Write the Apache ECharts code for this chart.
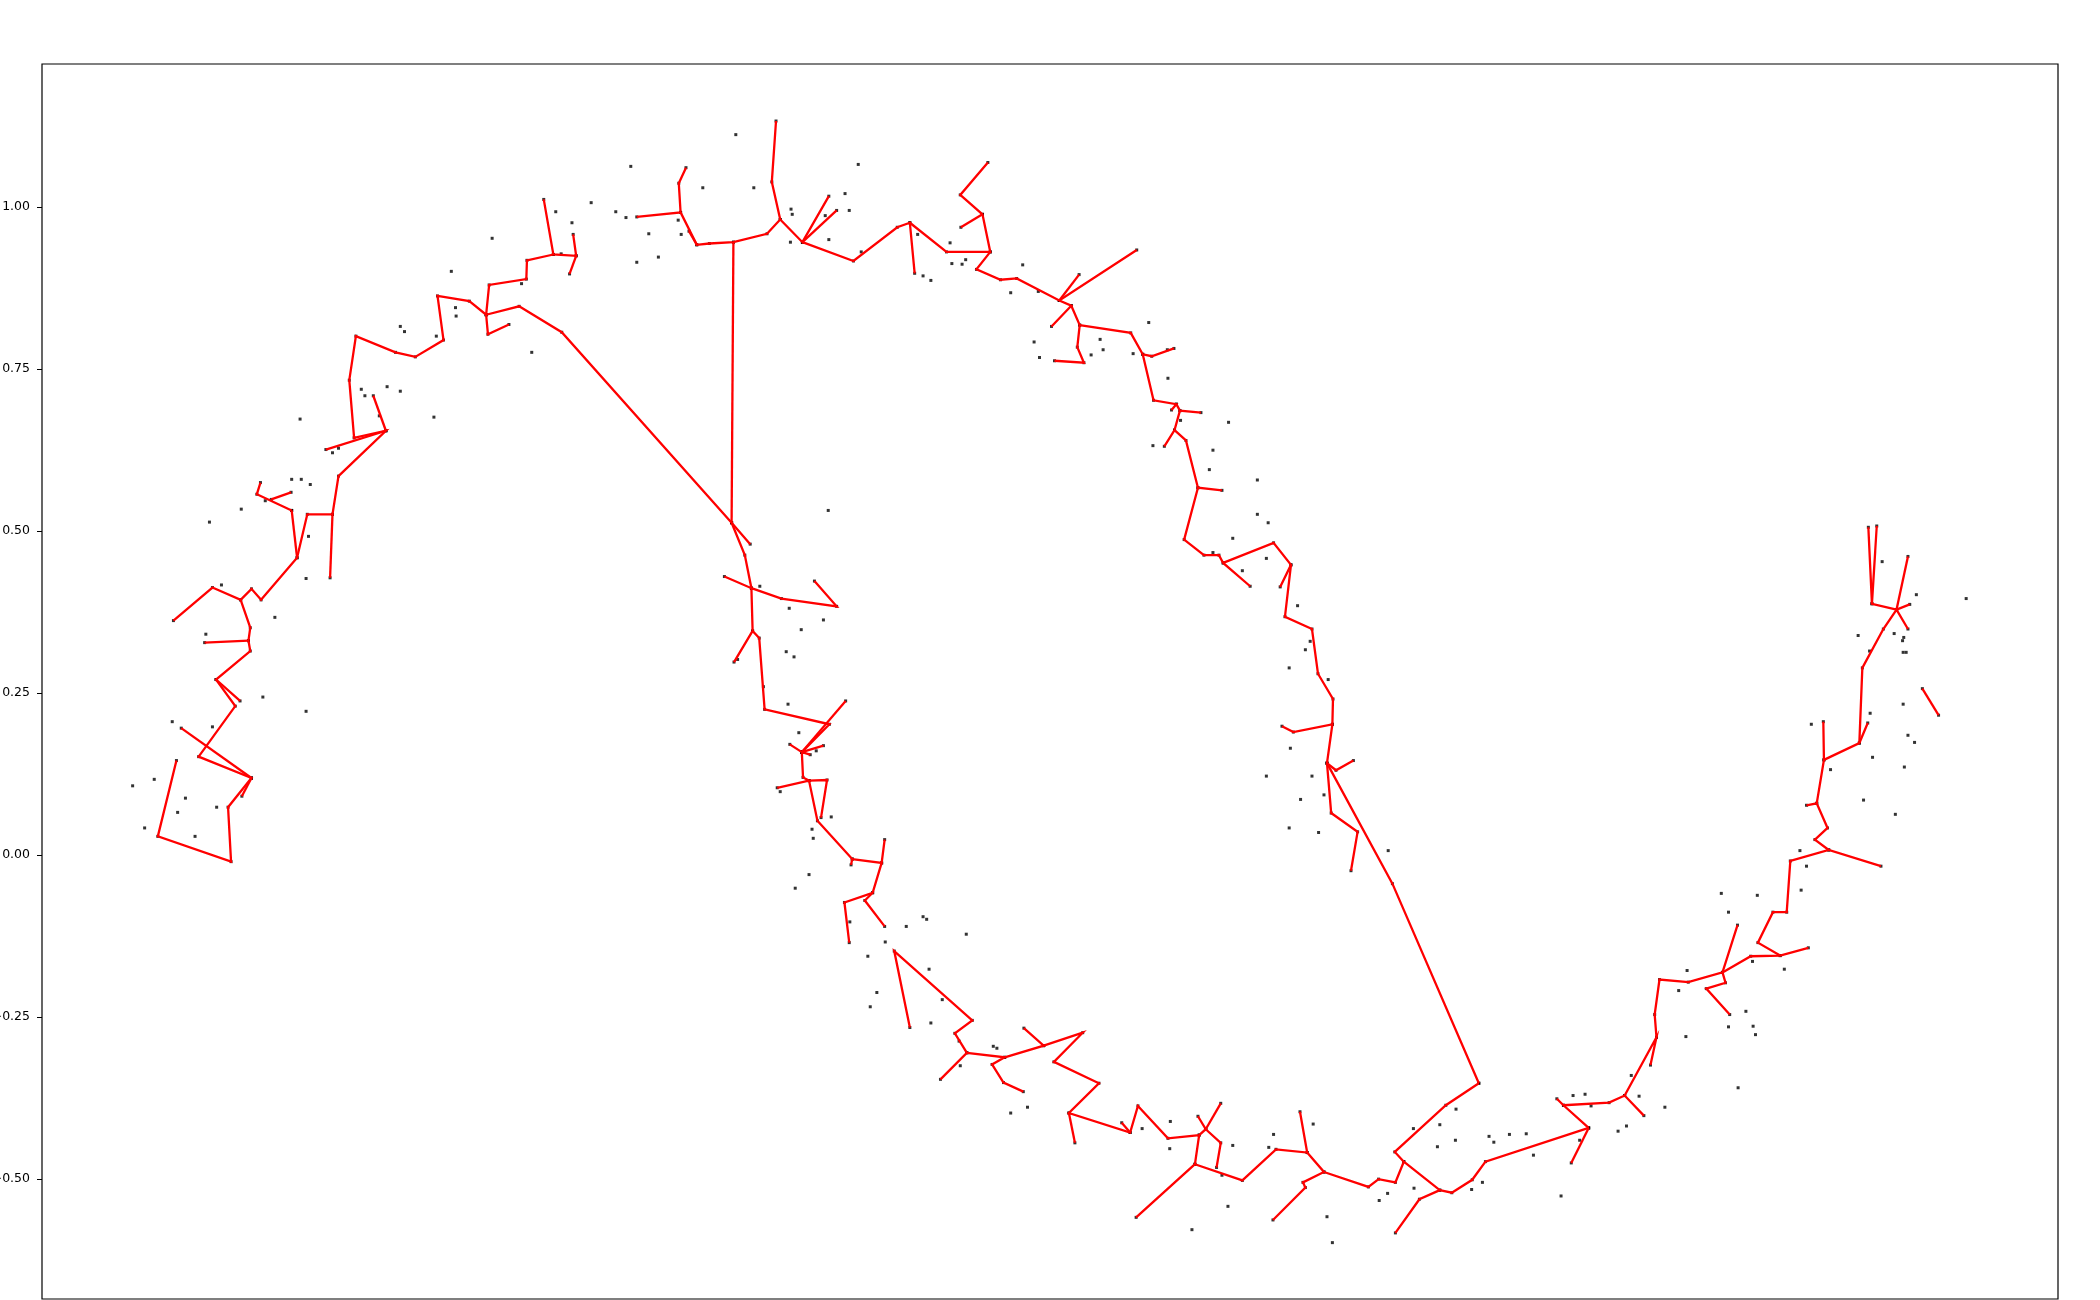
<!DOCTYPE html>
<html>
<head>
<meta charset="utf-8">
<title>moons graph</title>
<script src="https://cdn.jsdelivr.net/npm/echarts@6/dist/echarts.min.js"></script>
<style>
  html, body { margin: 0; padding: 0; background: #fff; }
  #chart { width: 2100px; height: 1300px; }
</style>
</head>
<body>
<div id="chart"></div>
<script>
// axis range (x has no ticks in the original)
var xRange = [-1.154, 2.205];
var yRange = [-0.685, 1.221];
var yTicks = [-0.5, -0.25, 0, 0.25, 0.5, 0.75, 1.0];

// red edges, each entry is a chain of points
var upperLeftEdges = [
  [[-0.318,1.012],[-0.302,0.927],[-0.264,0.925],[-0.269,0.958]],
  [[-0.264,0.925],[-0.275,0.897]],
  [[-0.302,0.927],[-0.346,0.918],[-0.347,0.889],[-0.409,0.880],[-0.414,0.834],[-0.442,0.855],[-0.495,0.863],
   [-0.485,0.795],[-0.532,0.769],[-0.565,0.776],[-0.631,0.801],[-0.642,0.733],[-0.634,0.644],[-0.581,0.655],
   [-0.660,0.585],[-0.670,0.526],[-0.712,0.526],[-0.729,0.459],[-0.789,0.394],[-0.805,0.411],[-0.823,0.394],
   [-0.870,0.413],[-0.935,0.362]],
  [[-0.581,0.655],[-0.681,0.626]],
  [[-0.581,0.655],[-0.602,0.709]],
  [[-0.670,0.526],[-0.674,0.428]],
  [[-0.738,0.532],[-0.729,0.459]],
  [[-0.738,0.532],[-0.796,0.557],[-0.790,0.575]],
  [[-0.772,0.549],[-0.739,0.560]],
  [[-0.414,0.834],[-0.411,0.804],[-0.376,0.819]],
  [[-0.823,0.394],[-0.807,0.351],[-0.810,0.331],[-0.807,0.315],[-0.864,0.271],[-0.824,0.238]],
  [[-0.810,0.331],[-0.883,0.328]],
  [[-0.864,0.271],[-0.832,0.230],[-0.893,0.152],[-0.805,0.119],[-0.844,0.074],[-0.839,-0.010],[-0.961,0.029],[-0.930,0.146]],
  [[-0.922,0.196],[-0.805,0.119]],
  [[-0.805,0.119],[-0.821,0.091]]
];

var topEdges = [
  [[-0.163,0.985],[-0.090,0.992],[-0.093,1.037],[-0.081,1.061]],
  [[-0.090,0.992],[-0.063,0.942],[-0.042,0.944],[-0.002,0.946],[0.054,0.959],[0.076,0.981],[0.062,1.039],[0.069,1.133]],
  [[-0.063,0.942],[-0.076,0.963]],
  [[0.076,0.981],[0.113,0.946],[0.157,1.017]],
  [[0.113,0.946],[0.170,0.995]],
  [[0.113,0.946],[0.198,0.917],[0.271,0.969],[0.292,0.976],[0.300,0.898]],
  [[0.292,0.976],[0.353,0.931],[0.426,0.931],[0.413,0.989],[0.376,1.019],[0.422,1.069]],
  [[0.413,0.989],[0.377,0.969]],
  [[0.426,0.931],[0.403,0.904],[0.443,0.888],[0.470,0.890],[0.541,0.856],[0.670,0.934]],
  [[0.541,0.856],[0.574,0.896]],
  [[0.541,0.856],[0.561,0.848],[0.528,0.816]],
  [[0.561,0.848],[0.575,0.818],[0.571,0.784],[0.582,0.760],[0.533,0.763]],
  [[0.575,0.818],[0.660,0.806],[0.680,0.773],[0.695,0.770],[0.732,0.782]],
  [[0.680,0.773],[0.698,0.702],[0.736,0.696],[0.728,0.687]],
  [[0.736,0.696],[0.742,0.686],[0.777,0.683]],
  [[0.742,0.686],[0.733,0.656],[0.716,0.631]],
  [[0.733,0.656],[0.752,0.640],[0.772,0.567],[0.812,0.563]],
  [[0.772,0.567],[0.749,0.487],[0.782,0.463],[0.807,0.463],[0.814,0.451],[0.859,0.415]],
  [[0.814,0.451],[0.898,0.482],[0.927,0.448],[0.909,0.414]],
  [[0.927,0.448],[0.917,0.368],[0.962,0.349],[0.972,0.280],[0.997,0.241],[0.996,0.202],[0.931,0.190],[0.912,0.199]],
  [[0.996,0.202],[0.987,0.142],[1.002,0.131],[1.031,0.146]],
  [[0.987,0.142],[0.994,0.065],[1.038,0.036],[1.027,-0.024]]
];

// long links between the arms
var bridgeEdges = [
  [[-0.414,0.834],[-0.359,0.847],[-0.288,0.807],[-0.005,0.513],[0.026,0.480]],
  [[-0.002,0.946],[-0.005,0.513]],
  [[0.987,0.142],[1.096,-0.044],[1.240,-0.352]]
];

var lowerLeftEdges = [
  [[-0.005,0.513],[0.017,0.463],[0.028,0.412],[-0.017,0.430]],
  [[0.028,0.412],[0.078,0.396],[0.170,0.384],[0.133,0.423]],
  [[0.028,0.412],[0.030,0.346],[-0.001,0.298]],
  [[0.030,0.346],[0.041,0.335],[0.050,0.225],[0.158,0.202],[0.112,0.159]],
  [[0.112,0.159],[0.185,0.238]],
  [[0.112,0.159],[0.092,0.171]],
  [[0.112,0.159],[0.148,0.169]],
  [[0.112,0.159],[0.126,0.155]],
  [[0.112,0.159],[0.114,0.120],[0.124,0.115],[0.071,0.104]],
  [[0.124,0.115],[0.154,0.116],[0.144,0.058]],
  [[0.124,0.115],[0.138,0.053],[0.196,-0.006],[0.194,-0.015]],
  [[0.196,-0.006],[0.245,-0.012],[0.250,0.024]],
  [[0.245,-0.012],[0.230,-0.058],[0.183,-0.073],[0.191,-0.135]],
  [[0.230,-0.058],[0.217,-0.070],[0.250,-0.110]],
  [[0.292,-0.266],[0.266,-0.148],[0.396,-0.255],[0.367,-0.275],[0.387,-0.305],[0.343,-0.346]],
  [[0.387,-0.305],[0.450,-0.312],[0.429,-0.323],[0.448,-0.351],[0.481,-0.365]],
  [[0.450,-0.312],[0.515,-0.294],[0.482,-0.267]]
];

var bottomEdges = [
  [[0.515,-0.294],[0.580,-0.274],[0.532,-0.319],[0.607,-0.352],[0.557,-0.398],[0.659,-0.428],[0.672,-0.387],
   [0.722,-0.437],[0.774,-0.432],[0.785,-0.423],[0.772,-0.403]],
  [[0.557,-0.398],[0.567,-0.444]],
  [[0.659,-0.428],[0.645,-0.413]],
  [[0.785,-0.423],[0.810,-0.383]],
  [[0.785,-0.423],[0.810,-0.444],[0.803,-0.482]],
  [[0.774,-0.432],[0.767,-0.477],[0.669,-0.559]],
  [[0.767,-0.477],[0.846,-0.502],[0.902,-0.454],[0.954,-0.459],[0.942,-0.396]],
  [[0.954,-0.459],[0.982,-0.489],[0.947,-0.505],[0.951,-0.513],[0.897,-0.563]],
  [[0.982,-0.489],[1.056,-0.512],[1.073,-0.500],[1.101,-0.505],[1.115,-0.473],[1.100,-0.458],[1.185,-0.386],[1.240,-0.352]],
  [[1.115,-0.473],[1.175,-0.517],[1.141,-0.531],[1.101,-0.583]],
  [[1.175,-0.517],[1.195,-0.521],[1.229,-0.501],[1.251,-0.473],[1.423,-0.421]]
];

var rightEdges = [
  [[1.423,-0.421],[1.394,-0.475]],
  [[1.423,-0.421],[1.381,-0.386],[1.370,-0.376]],
  [[1.381,-0.386],[1.457,-0.382],[1.483,-0.371],[1.515,-0.402]],
  [[1.483,-0.371],[1.536,-0.281],[1.526,-0.324]],
  [[1.536,-0.281],[1.533,-0.246],[1.541,-0.192],[1.589,-0.196],[1.646,-0.181],[1.671,-0.108]],
  [[1.646,-0.181],[1.651,-0.197],[1.619,-0.206],[1.658,-0.246]],
  [[1.646,-0.181],[1.693,-0.156],[1.742,-0.155],[1.789,-0.143]],
  [[1.742,-0.155],[1.705,-0.135],[1.730,-0.088],[1.753,-0.088],[1.759,-0.009],[1.823,0.008],[1.910,-0.017]],
  [[1.823,0.008],[1.800,0.024],[1.821,0.042],[1.803,0.080],[1.786,0.077]],
  [[1.803,0.080],[1.815,0.147],[1.814,0.206]],
  [[1.815,0.147],[1.874,0.173],[1.888,0.204]],
  [[1.874,0.173],[1.879,0.289],[1.914,0.349],[1.936,0.379],[1.955,0.349]],
  [[1.936,0.379],[1.958,0.387]],
  [[1.936,0.379],[1.955,0.461]],
  [[1.936,0.379],[1.895,0.388],[1.889,0.506]],
  [[1.895,0.388],[1.903,0.508]],
  [[1.979,0.257],[2.006,0.216]]
];

// black points that carry no edge
var dotsLeftArm = [
  [-0.239,1.007],[-0.298,0.993],[-0.271,0.976],[-0.404,0.952],[-0.289,0.928],[-0.472,0.901],[-0.355,0.882],
  [-0.465,0.845],[-0.464,0.832],[-0.557,0.816],[-0.550,0.808],[-0.497,0.801],[-0.338,0.776],[-0.622,0.719],
  [-0.616,0.709],[-0.579,0.723],[-0.557,0.716],[-0.592,0.678],[-0.501,0.676],[-0.724,0.673],[-0.670,0.621],
  [-0.660,0.628],[-0.738,0.580],[-0.722,0.580],[-0.707,0.572],[-0.782,0.547],[-0.822,0.534],[-0.875,0.514],
  [-0.710,0.492],[-0.714,0.427],[-0.855,0.417],[-0.766,0.367],[-0.881,0.341],[-0.786,0.244],[-0.714,0.222],
  [-0.937,0.206],[-0.870,0.198],[-0.967,0.117],[-1.003,0.107],[-0.915,0.088],[-0.863,0.074],[-0.928,0.066],
  [-0.983,0.042],[-0.899,0.029]
];
var dotsTop = [
  [0.002,1.112],[-0.173,1.063],[-0.198,0.993],[-0.181,0.984],[-0.143,0.959],[-0.163,0.915],[-0.127,0.923],
  [-0.053,1.030],[0.032,1.030],[-0.094,0.980],[-0.089,0.958],[0.094,0.997],[0.096,0.989],[0.093,0.946],
  [0.151,0.987],[0.184,1.021],[0.191,0.995],[0.206,1.066],[0.157,0.950],[0.211,0.931],[0.305,0.958],
  [0.359,0.945],[0.362,0.913],[0.379,0.912],[0.385,0.919],[0.314,0.894],[0.327,0.887],[0.480,0.911],
  [0.460,0.868],[0.506,0.870],[0.499,0.792],[0.508,0.768],[0.609,0.796],[0.614,0.780],[0.594,0.772],
  [0.664,0.774],[0.690,0.822],[0.722,0.736],[0.721,0.780]
];
var dotsRightDesc = [
  [0.743,0.671],[0.823,0.668],[0.697,0.632],[0.797,0.625],[0.791,0.595],[0.871,0.579],[0.871,0.526],
  [0.889,0.513],[0.830,0.489],[0.797,0.467],[0.886,0.458],[0.846,0.439],[0.938,0.385],[0.959,0.330],
  [0.951,0.317],[0.924,0.289],[0.989,0.271],[0.926,0.165],[0.886,0.122],[0.962,0.122],[0.982,0.093],
  [0.943,0.086],[0.924,0.042],[0.973,0.035],[1.089,0.007]
];
var dotsLowerLeft = [
  [0.156,0.532],[0.042,0.415],[0.091,0.381],[0.148,0.363],[0.111,0.348],[0.086,0.314],[0.099,0.306],
  [0.005,0.302],[0.048,0.260],[0.089,0.233],[0.107,0.189],[0.136,0.161],[0.076,0.098],[0.161,0.059],
  [0.129,0.040],[0.131,0.026],[0.124,-0.030],[0.101,-0.051],[0.192,-0.103],[0.251,-0.134],[0.222,-0.156],
  [0.286,-0.110],[0.314,-0.095],[0.320,-0.099],[0.386,-0.122],[0.324,-0.176],[0.237,-0.212],[0.226,-0.234],
  [0.346,-0.223],[0.327,-0.259],[0.374,-0.287],[0.431,-0.295],[0.437,-0.298],[0.376,-0.325],[0.460,-0.398],
  [0.488,-0.389]
];
var dotsBottom = [
  [0.679,-0.422],[0.726,-0.411],[0.725,-0.453],[0.830,-0.448],[0.812,-0.494],[0.822,-0.542],[0.762,-0.578],
  [0.898,-0.431],[0.890,-0.451],[0.964,-0.415],[0.987,-0.558],[0.996,-0.598],[1.074,-0.533],[1.088,-0.522],
  [1.131,-0.422],[1.132,-0.514],[1.171,-0.450],[1.175,-0.416],[1.201,-0.440],[1.202,-0.392],[1.246,-0.505],
  [1.228,-0.516],[1.257,-0.434],[1.265,-0.443],[1.291,-0.431]
];
var dotsRightArm = [
  [1.656,-0.088],[1.587,-0.178],[1.573,-0.209],[1.696,-0.164],[1.749,-0.176],[1.685,-0.241],[1.656,-0.265],
  [1.697,-0.264],[1.701,-0.277],[1.585,-0.280],[1.672,-0.359],[1.494,-0.340],[1.507,-0.372],[1.550,-0.389],
  [1.397,-0.371],[1.417,-0.369],[1.427,-0.387],[1.486,-0.418],[1.472,-0.426],[1.408,-0.440],[1.319,-0.430],
  [1.331,-0.463],[1.377,-0.526],[1.912,0.453],[1.969,0.402],[2.052,0.396],[1.872,0.339],[1.932,0.342],
  [1.948,0.336],[1.946,0.331],[1.891,0.315],[1.947,0.313],[1.952,0.313],[1.947,0.233],[1.892,0.219],
  [1.794,0.202],[1.955,0.185],[1.966,0.174],[1.896,0.151],[1.949,0.136],[1.826,0.132],[1.881,0.085],
  [1.934,0.063],[1.775,0.007],[1.786,-0.017],[1.777,-0.054],[1.644,-0.059],[1.704,-0.062]
];

var allEdges = [].concat(upperLeftEdges, topEdges, bridgeEdges, lowerLeftEdges, bottomEdges, rightEdges);
var allDots = [].concat(dotsLeftArm, dotsTop, dotsRightDesc, dotsLowerLeft, dotsBottom, dotsRightArm);

// every edge end is a point too
var nodeDots = [];
for (var i = 0; i < allEdges.length; i++) {
    for (var j = 0; j < allEdges[i].length; j++) {
        nodeDots.push(allEdges[i][j]);
    }
}

var chart = echarts.init(document.getElementById('chart'), null, { renderer: 'canvas' });

var option = {
    animation: false,
    backgroundColor: '#fff',
    textStyle: { fontFamily: 'DejaVu Sans' },
    grid: {
        left: 42, right: 42, top: 64, bottom: 1,
        outerBoundsMode: 'none',   // keep the frame where it is, let the minus signs fall off the edge
        containLabel: false,
        show: true, borderColor: '#000', borderWidth: 1.2, backgroundColor: 'transparent'
    },
    xAxis: {
        type: 'value',
        min: xRange[0], max: xRange[1],
        axisLine: { show: false, onZero: false },
        axisTick: { show: false },
        axisLabel: { show: false },
        splitLine: { show: false }
    },
    yAxis: {
        type: 'value',
        min: yRange[0], max: yRange[1],
        axisLine: { show: false, onZero: false },
        axisTick: {
            show: true, length: 5, inside: false,
            customValues: yTicks,
            lineStyle: { color: '#000', width: 1 }
        },
        axisLabel: {
            show: true, margin: 12,
            customValues: yTicks,
            color: '#000', fontSize: 12.5, fontFamily: 'DejaVu Sans',
            formatter: function (v) {
                return (v < 0 ? '\u2212' : '') + Math.abs(v).toFixed(2);
            }
        },
        splitLine: { show: false }
    },
    series: [
        {
            type: 'scatter',
            data: allDots,
            symbol: 'rect',
            symbolSize: 3,
            itemStyle: { color: '#000' },
            silent: true,
            z: 1
        },
        {
            type: 'scatter',
            data: nodeDots,
            symbol: 'rect',
            symbolSize: 3,
            itemStyle: { color: '#000' },
            silent: true,
            z: 1
        },
        {
            type: 'lines',
            coordinateSystem: 'cartesian2d',
            polyline: true,
            data: allEdges.map(function (c) { return { coords: c }; }),
            lineStyle: { color: '#ff0000', width: 2.3, opacity: 1 },
            silent: true,
            z: 3
        }
    ]
};

chart.setOption(option);
</script>
</body>
</html>
